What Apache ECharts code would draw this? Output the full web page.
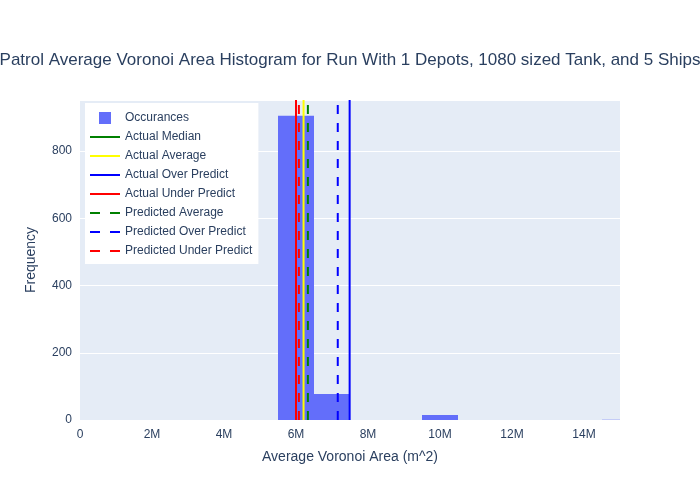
<!DOCTYPE html>
<html>
<head>
<meta charset="utf-8">
<script src="https://cdn.jsdelivr.net/npm/echarts@6/dist/echarts.min.js"></script>
<style>
html, body { margin: 0; padding: 0; background: #fff; }
#chart { width: 700px; height: 500px; }
</style>
</head>
<body>
<div id="chart"></div>
<script>
// histogram bins (m^2) and counts
var binStart = [5.5e6, 6.5e6, 9.5e6, 14.5e6];
var binEnd = [6.5e6, 7.5e6, 10.5e6, 15.5e6];
var counts = [905, 77, 15, 1];

// reference lines (m^2)
var lineNames = ['Actual Median', 'Actual Average', 'Actual Over Predict', 'Actual Under Predict',
                 'Predicted Average', 'Predicted Over Predict', 'Predicted Under Predict'];
var lineValues = [6.0e6, 6.21e6, 7.49e6, 6.0e6, 6.33e6, 7.16e6, 6.08e6];
var lineColors = ['green', 'yellow', 'blue', 'red', 'green', 'blue', 'red'];
var lineDashed = [false, false, false, false, true, true, true];

var yMax = 952;
var xTicks = [0, 2e6, 4e6, 6e6, 8e6, 10e6, 12e6, 14e6];

var font = 'Liberation Sans, Arial, sans-serif';
var textColor = '#2a3f5f';

// legend icons
var squareIcon = 'path://M0,0H10V10H0Z';
var solidIcon = 'path://M0,0H30V2H0Z';
var dashIcon = 'path://M0,0H9V2H0ZM18,0H27V2H18Z';

var chart = echarts.init(document.getElementById('chart'));

var histData = [];
for (var i = 0; i < counts.length; i++) {
    histData.push([binStart[i], binEnd[i], counts[i]]);
}

var series = [{
    name: 'Occurances',
    type: 'custom',
    clip: true,
    color: '#636efa',
    encode: { x: [0, 1], y: 2 },
    renderItem: function (params, api) {
        var p0 = api.coord([api.value(0), api.value(2)]);
        var p1 = api.coord([api.value(1), 0]);
        return {
            type: 'rect',
            shape: { x: p0[0], y: p0[1], width: p1[0] - p0[0], height: p1[1] - p0[1] },
            style: { fill: '#636efa' }
        };
    },
    data: histData
}];

for (var j = 0; j < lineNames.length; j++) {
    series.push({
        name: lineNames[j],
        type: 'line',
        symbol: 'none',
        silent: true,
        color: lineColors[j],
        lineStyle: {
            color: lineColors[j],
            width: 2,
            type: lineDashed[j] ? [9, 9] : 'solid'
        },
        data: [[lineValues[j], 0], [lineValues[j], yMax]]
    });
}

var legendData = [{ name: 'Occurances', icon: squareIcon }];
for (var k = 0; k < lineNames.length; k++) {
    legendData.push({ name: lineNames[k], icon: lineDashed[k] ? dashIcon : solidIcon });
}

var option = {
    backgroundColor: '#fff',
    animation: false,
    textStyle: { fontFamily: font },
    title: {
        text: 'Patrol Average Voronoi Area Histogram for Run With 1 Depots, 1080 sized Tank, and 5 Ships',
        left: 'center',
        top: 47,
        textStyle: { fontFamily: font, fontSize: 17, fontWeight: 'normal', color: textColor }
    },
    legend: {
        orient: 'vertical',
        left: 85,
        top: 103,
        padding: [9, 6, 7, 5],
        backgroundColor: '#fff',
        itemWidth: 30,
        itemHeight: 12,
        itemGap: 7,
        symbolKeepAspect: true,
        textStyle: { fontFamily: font, fontSize: 12, color: textColor },
        data: legendData
    },
    grid: {
        left: 80, right: 80, top: 100, bottom: 80,
        show: true,
        backgroundColor: '#E5ECF6',
        borderWidth: 0
    },
    xAxis: {
        type: 'value',
        min: 0,
        max: 15e6,
        interval: 2e6,
        name: 'Average Voronoi Area (m^2)',
        nameLocation: 'middle',
        nameGap: 30,
        nameTextStyle: { fontFamily: font, fontSize: 14, color: textColor },
        axisLine: { show: false },
        axisTick: { show: false },
        splitLine: { show: false },
        axisLabel: {
            fontFamily: font, fontSize: 12, color: textColor, margin: 9,
            showMaxLabel: false,
            formatter: function (v) {
                if (xTicks.indexOf(v) < 0) return '';
                return v === 0 ? '0' : (v / 1e6) + 'M';
            }
        }
    },
    yAxis: {
        type: 'value',
        min: 0,
        max: yMax,
        interval: 200,
        name: 'Frequency',
        nameLocation: 'middle',
        nameGap: 42,
        nameTextStyle: { fontFamily: font, fontSize: 14, color: textColor },
        axisLine: { show: false },
        axisTick: { show: false },
        splitLine: { lineStyle: { color: '#fff', width: 1 } },
        axisLabel: {
            fontFamily: font, fontSize: 12, color: textColor, margin: 8,
            showMaxLabel: false,
            formatter: function (v) { return v % 200 === 0 ? String(v) : ''; }
        }
    },
    series: series
};

chart.setOption(option);
</script>
</body>
</html>
